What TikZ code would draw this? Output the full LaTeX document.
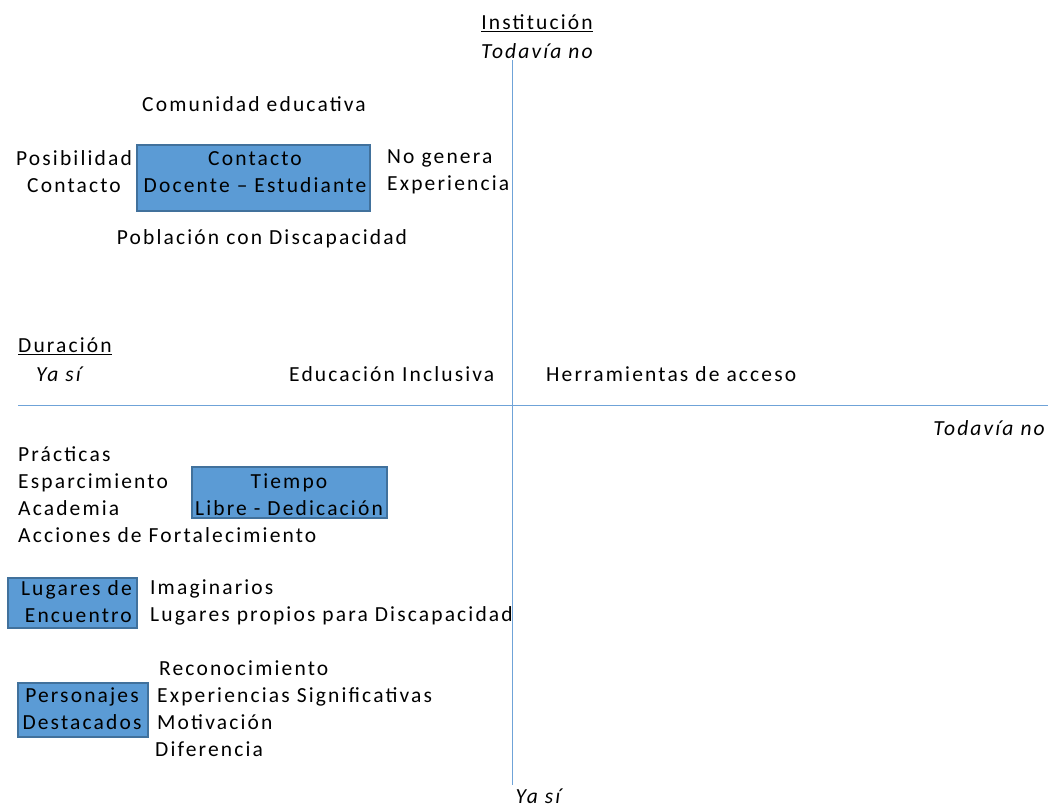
\documentclass[tikz,border=0pt]{standalone}
\usepackage{fontspec}
\setmainfont{Carlito}[LetterSpace=10]
\usepackage{xcolor}
\usetikzlibrary{positioning}

\definecolor{boxfill}{HTML}{5B9BD5}
\definecolor{boxline}{HTML}{41719C}
\definecolor{axisblue}{HTML}{6FA3D8}

\tikzset{
  txt/.style={inner sep=0pt, font=\fontsize{21.5}{27}\selectfont},
  blk/.style={draw=boxline, fill=boxfill, line width=1.3pt, inner sep=0pt},
  axis/.style={draw=axisblue, line width=0.9pt},
}

\begin{document}
\begin{tikzpicture}[x=1pt,y=-1pt]
\useasboundingbox (0,0) rectangle (1048,808);
% ejes
\coordinate (vtop) at (512,60);
\coordinate (vbot) at (512,785);
\coordinate (hleft) at (18,405);
\coordinate (hright) at (1048,405);
\draw [axis] (vtop) -- (vbot);
\draw [axis] (hleft) -- (hright);
% etiquetas de los ejes
\node [txt] (inst) at (537,23) {\underline{Institución}};
\node [txt] (instno) at (537,51) {\itshape Todavía no};
\node [txt, anchor=west] (dur) at (18,346) {\underline{Duración}};
\node [txt, anchor=west] (dursi) at (36,374) {\itshape Ya sí};
\node [txt, anchor=east] (hno) at (1045,428) {\itshape Todavía no};
\node [txt] (vsi) at (538,796) {\itshape Ya sí};
% cuadrante superior
\node [txt] (comunidad) at (254,104) {Comunidad educativa};
\node [blk, minimum width=233, minimum height=66] (contacto) at (253.5,178) {};
\node [txt, align=center] (contactotxt) at (255,172) {Contacto\\Docente -- Estudiante};
\node [txt, align=center] (posib) at (74,172) {Posibilidad\\Contacto};
\node [txt, align=left, anchor=west] (nogenera) at (387,172) {No genera\\Experiencia};
\node [txt] (poblacion) at (262,239) {Población con Discapacidad};
\node [txt, anchor=west] (educ) at (289,374) {Educación Inclusiva};
\node [txt, anchor=west] (herr) at (546,374) {Herramientas de acceso};
% cuadrante inferior
\node [txt, align=left, anchor=west] (practicas) at (18,495) {Prácticas\\Esparcimiento\\Academia\\Acciones de Fortalecimiento};
\node [blk, minimum width=195, minimum height=51] (tiempo) at (289.5,492.5) {};
\node [txt, align=center] (tiempotxt) at (289,495) {Tiempo\\Libre - Dedicación};
\node [blk, minimum width=129, minimum height=50] (lugares) at (72.5,603) {};
\node [txt, align=right, anchor=east] (lugarestxt) at (132,602) {Lugares de\\Encuentro};
\node [txt, align=left, anchor=west] (imagin) at (150,602) {Imaginarios\\Lugares propios para Discapacidad};
\node [blk, minimum width=130, minimum height=54] (personajes) at (83,710) {};
\node [txt, align=center] (personajestxt) at (82,709) {Personajes\\Destacados};
\node [txt, align=left, anchor=west] (recon) at (155,709) {\hspace*{4pt}Reconocimiento\\\hspace*{2pt}Experiencias Significativas\\\hspace*{2pt}Motivación\\Diferencia};
\end{tikzpicture}
\end{document}
